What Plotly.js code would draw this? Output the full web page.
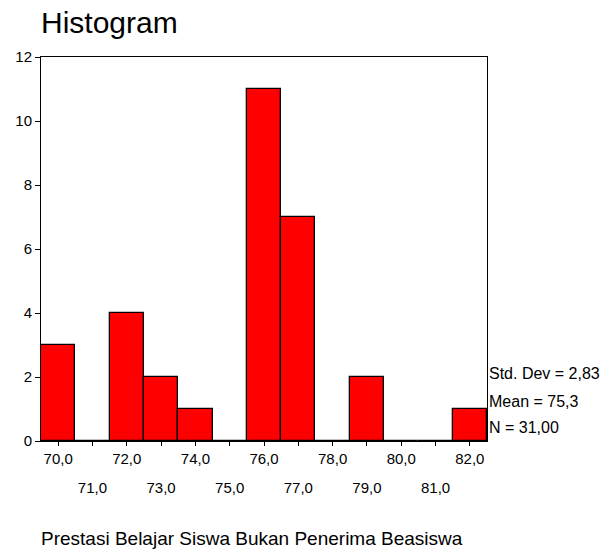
<!DOCTYPE html>
<html>
<head>
<meta charset="utf-8">
<script src="https://cdn.plot.ly/plotly-3.0.1.min.js"></script>
<style>html,body{margin:0;padding:0;background:#fff;}#chart{width:606px;height:554px;}</style>
</head>
<body>
<div id="chart"></div>
<script>
// Bin centres and frequencies
var bins = [70, 71, 72, 73, 74, 75, 76, 77, 78, 79, 80, 81, 82];
var counts = [3, 0, 4, 2, 1, 0, 11, 7, 0, 2, 0, 0, 1];
var evenTicks = [70, 72, 74, 76, 78, 80, 82];
var evenLabels = ["70,0", "72,0", "74,0", "76,0", "78,0", "80,0", "82,0"];
var oddTicks = [71, 73, 75, 77, 79, 81];
var oddLabels = ["71,0", "73,0", "75,0", "77,0", "79,0", "81,0"];
var yTicks = [0, 2, 4, 6, 8, 10, 12];
var statsLines = ["Std. Dev = 2,83", "Mean = 75,3", "N = 31,00"];
var xTitle = "Prestasi Belajar Siswa Bukan Penerima Beasiswa";

var FONT = "Liberation Sans, Arial, sans-serif";

var traces = [
  {
    type: "bar",
    x: bins,
    y: counts,
    width: 1,
    marker: { color: "rgb(255,0,0)", line: { color: "#000", width: 1.3 } },
    hoverinfo: "x+y",
    xaxis: "x",
    yaxis: "y"
  },
  {
    type: "scatter",
    mode: "none",
    x: oddTicks,
    y: oddTicks.map(function () { return 0; }),
    xaxis: "x2",
    yaxis: "y",
    hoverinfo: "skip",
    showlegend: false
  }
];

var statsY = [0.177, 0.102, 0.034];
var annotations = statsLines.map(function (t, i) {
  return {
    text: t, xref: "paper", yref: "paper", x: 1.0, y: statsY[i],
    xanchor: "left", yanchor: "middle", showarrow: false,
    font: { family: FONT, size: 16, color: "#000" }
  };
});
annotations.push({
  text: xTitle, xref: "paper", yref: "paper", x: -0.004, y: -0.254,
  xanchor: "left", yanchor: "middle", showarrow: false,
  font: { family: FONT, size: 19, color: "#000" }
});

var layout = {
  width: 606,
  height: 554,
  margin: { l: 41, r: 119, t: 57, b: 113, pad: 0 },
  paper_bgcolor: "#fff",
  plot_bgcolor: "#fff",
  showlegend: false,
  bargap: 0,
  font: { family: FONT, color: "#000" },
  title: {
    text: "Histogram",
    xref: "paper", x: 0, xanchor: "left",
    yref: "container", y: 1 - 22 / 554, yanchor: "middle",
    font: { family: FONT, size: 30, color: "#000" }
  },
  xaxis: {
    range: [69.5, 82.5],
    tickmode: "array",
    tickvals: bins,
    ticktext: bins.map(function (b) {
      var i = evenTicks.indexOf(b);
      return i >= 0 ? evenLabels[i] : "";
    }),
    ticks: "outside", ticklen: 4, tickcolor: "#000", tickwidth: 1,
    showline: true, linecolor: "#000", linewidth: 1, mirror: true,
    showgrid: false, zeroline: false,
    tickfont: { family: FONT, size: 15, color: "#000" },
    fixedrange: true
  },
  xaxis2: {
    overlaying: "x",
    anchor: "y",
    side: "bottom",
    range: [69.5, 82.5],
    tickmode: "array",
    tickvals: oddTicks,
    ticktext: oddLabels,
    ticks: "",
    showline: false, showgrid: false, zeroline: false,
    ticklabelstandoff: 36,
    tickfont: { family: FONT, size: 15, color: "#000" },
    fixedrange: true
  },
  yaxis: {
    range: [0, 12],
    tickmode: "array",
    tickvals: yTicks,
    ticktext: yTicks.map(String),
    ticks: "outside", ticklen: 5, tickcolor: "#000", tickwidth: 1,
    showline: true, linecolor: "#000", linewidth: 1, mirror: true,
    showgrid: false, zeroline: false,
    tickfont: { family: FONT, size: 15, color: "#000" },
    fixedrange: true
  },
  annotations: annotations
};

Plotly.newPlot("chart", traces, layout, { displayModeBar: false, staticPlot: false });
</script>
</body>
</html>
